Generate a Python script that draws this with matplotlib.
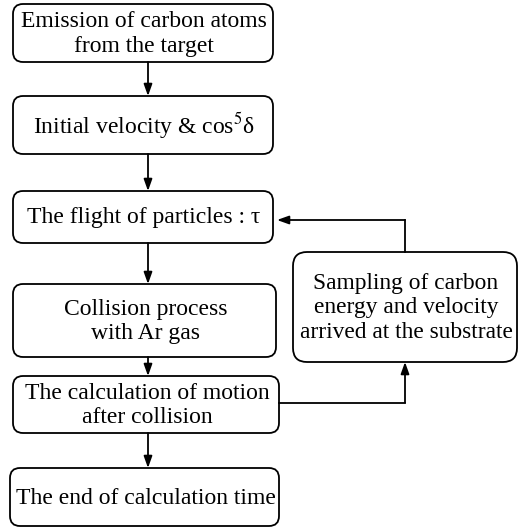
import matplotlib
matplotlib.use('Agg')
import matplotlib.pyplot as plt
from matplotlib.patches import FancyBboxPatch

# box texts
labels = [
    'Emission of carbon atoms\nfrom the target',
    'Initial velocity & cos$^5$δ',
    'The flight of particles : τ',
    'Collision process\nwith Ar gas',
    'The calculation of motion\nafter collision',
    'The end of calculation time',
]
side_label = 'Sampling of carbon\nenergy and velocity\narrived at the substrate'

# layout in pixels (x0, y0, x1, y1), y measured downward
main_boxes = [
    (13, 4, 273, 62),
    (13, 96, 273, 154),
    (13, 191, 273, 243),
    (13, 284, 276, 357),
    (13, 376, 279, 433),
    (10, 468, 279, 526),
]
side_box = (293, 252, 517, 362)
x_mid = 148
x_loop = 405

fig = plt.figure(figsize=(5.22, 5.29), dpi=100)
ax = fig.add_axes([0, 0, 1, 1])
ax.set_xlim(0, 522)
ax.set_ylim(529, 0)
ax.axis('off')

plt.rcParams['font.family'] = ['Liberation Serif', 'DejaVu Serif']
plt.rcParams['mathtext.fontset'] = 'stix'

lw = 1.3

def draw_box(b, text, rs=10, fs=17):
    x0, y0, x1, y1 = b
    p = FancyBboxPatch((x0, y0), x1 - x0, y1 - y0,
                       boxstyle='round,pad=0,rounding_size=%d' % rs,
                       fc='white', ec='black', lw=lw)
    ax.add_patch(p)
    ax.text((x0 + x1) / 2 + 1, (y0 + y1) / 2 + 1, text, ha='center', va='center',
            fontsize=fs, linespacing=1.22, family=['Liberation Serif', 'DejaVu Serif'])

for b, t in zip(main_boxes, labels):
    draw_box(b, t)
draw_box(side_box, side_label, rs=14, fs=16.8)

arrow = dict(arrowstyle='-|>,head_length=0.7,head_width=0.25', color='black',
             lw=lw, shrinkA=0, shrinkB=0)

# vertical arrows between main boxes
for a, b in zip(main_boxes[:-1], main_boxes[1:]):
    ax.annotate('', xy=(x_mid, b[1]), xytext=(x_mid, a[3]), arrowprops=arrow)

# from calculation box to sampling box
y_out = (main_boxes[4][1] + main_boxes[4][3]) / 2 - 2
ax.plot([main_boxes[4][2], x_loop], [y_out, y_out], color='black', lw=lw)
ax.annotate('', xy=(x_loop, side_box[3]), xytext=(x_loop, y_out), arrowprops=arrow)

# from sampling box back to flight box
y_in = 220
ax.plot([x_loop, x_loop], [side_box[1], y_in], color='black', lw=lw)
ax.annotate('', xy=(main_boxes[2][2] + 4, y_in), xytext=(x_loop, y_in), arrowprops=arrow)

fig.savefig('out.png', dpi=100)
